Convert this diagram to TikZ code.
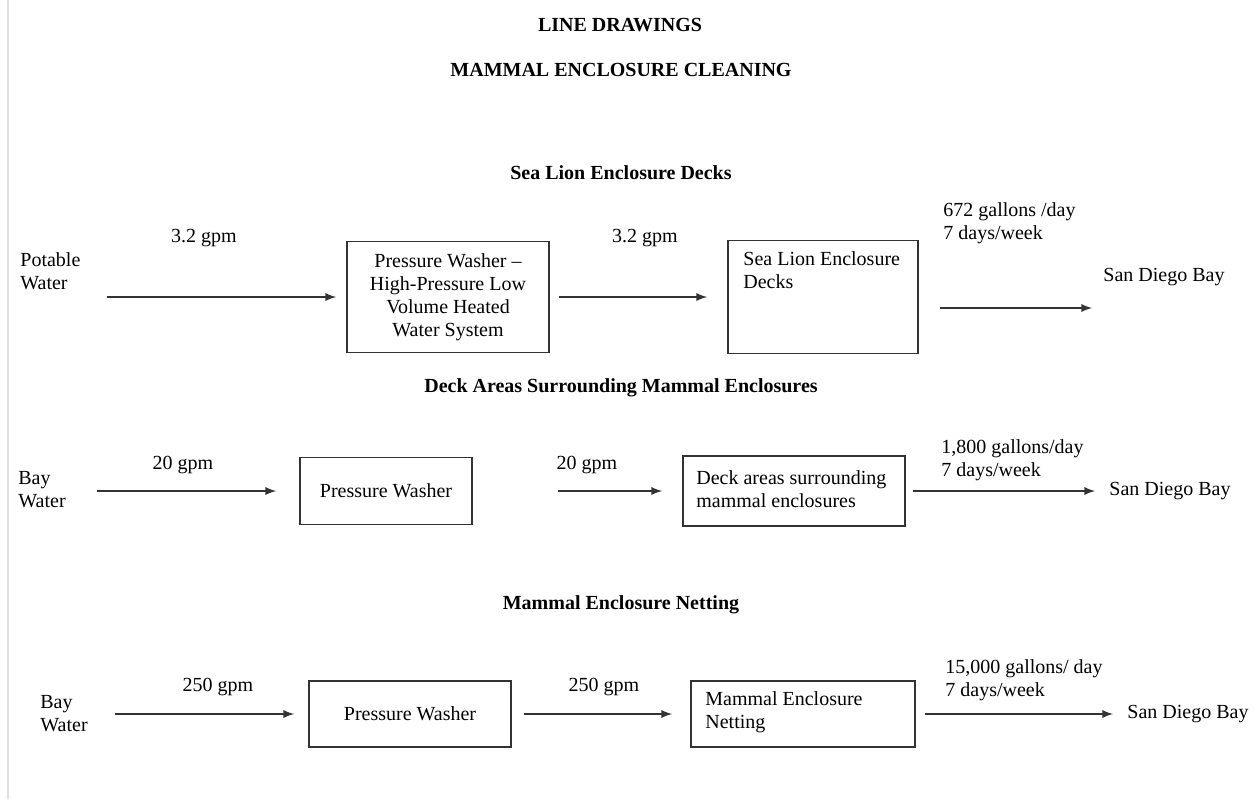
\documentclass[tikz,border=0pt]{standalone}
\usepackage{fontspec}
\setmainfont{Liberation Serif}

\tikzset{
  txt/.style={inner sep=0pt, align=left, font=\fontsize{10}{11.5}\selectfont},
  head/.style={inner sep=0pt, font=\fontsize{10}{11.5}\selectfont\bfseries},
  box/.style={draw=black!80, line width=0.85pt, inner sep=0pt, align=center, font=\fontsize{10}{11.5}\selectfont},
  flow/.style={-latex, draw=black!80, line width=0.85pt}
}

\begin{document}
\begin{tikzpicture}[x=0.5pt, y=-0.5pt]
\useasboundingbox (0,0) rectangle (1255,799);

\draw[gray!25, line width=1pt] (8,0) -- (8,799);

\node[head] (title) at (620,25) {LINE DRAWINGS};
\node[head] (subtitle) at (621,70) {MAMMAL ENCLOSURE CLEANING};

% sea lion decks
\node[head] (head1) at (621,173) {Sea Lion Enclosure Decks};

\node[txt, anchor=west] (src1) at (20,271) {Potable\\Water};
\node[txt] (gpm1a) at (204,238) {3.2 gpm};
\coordinate (in1) at (107,297);

\node[box, minimum width=101pt, minimum height=55.5pt] (wash1) at (448,297) {Pressure Washer --\\High-Pressure Low\\Volume Heated\\Water System};

\node[txt] (gpm1b) at (645,238) {3.2 gpm};

\node[box, minimum width=95pt, minimum height=56.5pt] (deck1) at (823,297) {};
\node[txt, anchor=west] (deck1txt) at (743,270.5) {Sea Lion Enclosure\\Decks};

\node[txt, anchor=west] (out1) at (943,223.5) {672 gallons /day\\7 days/week};
\node[txt, anchor=west] (bay1) at (1103,277) {San Diego Bay};
\coordinate (o1s) at (940,308);
\coordinate (o1e) at (1092,308);

\draw[flow] (in1) -- ([xshift=-5pt]wash1.west);
\draw[flow] ([xshift=4.5pt]wash1.east) -- ([xshift=-10pt]deck1.west);
\draw[flow] (o1s) -- (o1e);

% deck areas
\node[head] (head2) at (621,388) {Deck Areas Surrounding Mammal Enclosures};

\node[txt, anchor=west] (src2) at (18,489.5) {Bay\\Water};
\node[txt] (gpm2a) at (183,465) {20 gpm};
\coordinate (in2) at (97,491);

\node[box, minimum width=86pt, minimum height=33.5pt] (wash2) at (386,491) {Pressure Washer};

\node[txt] (gpm2b) at (587,465) {20 gpm};

\node[box, minimum width=111pt, minimum height=35pt] (deck2) at (794,491) {};
\node[txt, anchor=west] (deck2txt) at (696,489.5) {Deck areas surrounding\\mammal enclosures};

\node[txt, anchor=west] (out2) at (941,460) {1,800 gallons/day\\7 days/week};
\node[txt, anchor=west] (bay2) at (1109,491) {San Diego Bay};
\coordinate (o2s) at (913,491);

\draw[flow] (in2) -- ([xshift=-11.5pt]wash2.west);
\draw[flow] ([xshift=42.5pt]wash2.east) -- ([xshift=-10pt]deck2.west);
\draw[flow] (o2s) -- ([xshift=-7pt]bay2.west);

% netting
\node[head] (head3) at (621,605) {Mammal Enclosure Netting};

\node[txt, anchor=west] (src3) at (40,713.5) {Bay\\Water};
\node[txt] (gpm3a) at (218,687) {250 gpm};
\coordinate (in3) at (115,714);

\node[box, minimum width=101pt, minimum height=33pt] (wash3) at (410,714) {Pressure Washer};

\node[txt] (gpm3b) at (604,687) {250 gpm};

\node[box, minimum width=112pt, minimum height=33pt] (net3) at (803,714) {};
\node[txt, anchor=west] (net3txt) at (705,712) {Mammal Enclosure\\Netting};

\node[txt, anchor=west] (out3) at (945,680.5) {15,000 gallons/ day\\7 days/week};
\node[txt, anchor=west] (bay3) at (1127,714) {San Diego Bay};
\coordinate (o3s) at (925,714);

\draw[flow] (in3) -- ([xshift=-7pt]wash3.west);
\draw[flow] ([xshift=6pt]wash3.east) -- ([xshift=-9pt]net3.west);
\draw[flow] (o3s) -- ([xshift=-7pt]bay3.west);
\end{tikzpicture}
\end{document}
